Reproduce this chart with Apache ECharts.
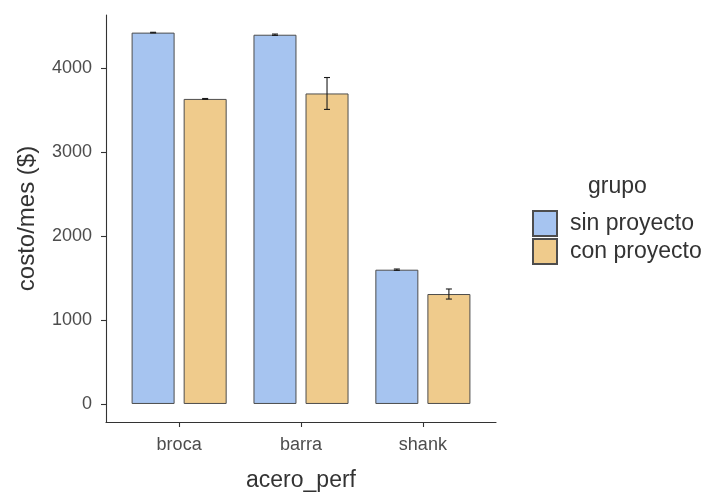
<!DOCTYPE html>
<html>
<head>
<meta charset="utf-8">
<script src="https://cdn.jsdelivr.net/npm/echarts@6/dist/echarts.min.js"></script>
<style>
  html, body { margin: 0; padding: 0; background: #ffffff; }
  #chart { width: 709px; height: 493px; }
</style>
</head>
<body>
<div id="chart"></div>
<script>
// Mean monthly cost per steel type, with and without the project, plus error half-widths
const categories = ['broca', 'barra', 'shank'];
const groups = ['sin proyecto', 'con proyecto'];
const sinMean = [4425, 4400, 1600];
const sinErr = [4, 8, 8];
const conMean = [3635, 3700, 1310];
const conErr = [5, 190, 60];
const yTicks = [0, 1000, 2000, 3000, 4000];

const colors = ['#a6c4f0', '#efcb8c'];
const FONT = 'Liberation Sans, Arial, sans-serif';
const CAT_GAP = 0.22;   // share of each category band left empty
const BAR_GAP = 0.21;   // gap between the two bars, relative to bar width

// categories sit at x = 1, 2, 3 on a continuous axis (discrete-scale padding of 0.6)
const xPos = categories.map((c, i) => i + 1);

function barData(values) {
  return values.map((v, i) => [xPos[i], v]);
}
function errData(values, errs) {
  return values.map((v, i) => [xPos[i], v - errs[i], v + errs[i]]);
}

// horizontal shift of a dodged bar's centre, as a fraction of the band width
function dodgeShift(sign) {
  const w = (1 - CAT_GAP) / (2 + BAR_GAP);
  return sign * w * (1 + BAR_GAP) / 2;
}

function errorBarRenderer(sign) {
  return function (params, api) {
    const x = api.value(0);
    const lo = api.coord([x, api.value(1)]);
    const hi = api.coord([x, api.value(2)]);
    const band = api.size([1, 0])[0];
    const cx = lo[0] + dodgeShift(sign) * band;
    const cap = 3;
    const style = { stroke: '#1a1a1a', lineWidth: 1.1 };
    return {
      type: 'group',
      children: [
        { type: 'line', shape: { x1: cx, y1: lo[1], x2: cx, y2: hi[1] }, style },
        { type: 'line', shape: { x1: cx - cap, y1: lo[1], x2: cx + cap, y2: lo[1] }, style },
        { type: 'line', shape: { x1: cx - cap, y1: hi[1], x2: cx + cap, y2: hi[1] }, style }
      ]
    };
  };
}

const axisLineStyle = { color: '#333333', width: 1.1 };

const chart = echarts.init(document.getElementById('chart'), null, { renderer: 'canvas' });
chart.setOption({
  animation: false,
  backgroundColor: '#ffffff',
  textStyle: { fontFamily: FONT },
  grid: { left: 106, right: 213, top: 15, bottom: 71, containLabel: false, outerBoundsMode: 'none' },
  title: {
    text: 'grupo',
    left: 588,
    top: 175,
    padding: 0,
    textStyle: { fontFamily: FONT, fontSize: 23, fontWeight: 'normal', color: '#333333' }
  },
  legend: {
    data: groups,
    orient: 'vertical',
    left: 532,
    top: 210,
    itemWidth: 24,
    itemHeight: 25,
    itemGap: 1,
    icon: 'rect',
    padding: 0,
    textStyle: { fontFamily: FONT, fontSize: 23, color: '#333333', padding: [0, 0, 0, 8] }
  },
  xAxis: {
    type: 'value',
    min: 0.4,
    max: 3.6,
    name: 'acero_perf',
    nameLocation: 'middle',
    nameGap: 47,
    nameTextStyle: { fontFamily: FONT, fontSize: 23, color: '#333333' },
    axisLine: { show: true, onZero: false, lineStyle: axisLineStyle },
    axisTick: { show: true, length: 5, customValues: xPos, lineStyle: axisLineStyle },
    axisLabel: {
      customValues: xPos,
      formatter: v => categories[Math.round(v) - 1] || '',
      margin: 14,
      fontFamily: FONT,
      fontSize: 18,
      color: '#4d4d4d'
    },
    splitLine: { show: false }
  },
  yAxis: {
    type: 'value',
    min: -215,
    max: 4635,
    name: 'costo/mes ($)',
    nameLocation: 'middle',
    nameGap: 67,
    nameTextStyle: { fontFamily: FONT, fontSize: 24, color: '#333333' },
    axisLine: { show: true, onZero: false, lineStyle: axisLineStyle },
    axisTick: { show: true, length: 5, customValues: yTicks, lineStyle: axisLineStyle },
    axisLabel: {
      customValues: yTicks,
      formatter: v => String(v),
      margin: 14,
      fontFamily: FONT,
      fontSize: 18,
      color: '#4d4d4d'
    },
    splitLine: { show: false }
  },
  series: [
    {
      name: groups[0],
      type: 'bar',
      data: barData(sinMean),
      barCategoryGap: (CAT_GAP * 100) + '%',
      barGap: (BAR_GAP * 100) + '%',
      itemStyle: { color: colors[0], borderColor: '#4d4d4d', borderWidth: 1 }
    },
    {
      name: groups[1],
      type: 'bar',
      data: barData(conMean),
      barCategoryGap: (CAT_GAP * 100) + '%',
      barGap: (BAR_GAP * 100) + '%',
      itemStyle: { color: colors[1], borderColor: '#4d4d4d', borderWidth: 1 }
    },
    {
      type: 'custom',
      renderItem: errorBarRenderer(-1),
      data: errData(sinMean, sinErr),
      encode: { x: 0, y: [1, 2] },
      z: 5,
      silent: true
    },
    {
      type: 'custom',
      renderItem: errorBarRenderer(1),
      data: errData(conMean, conErr),
      encode: { x: 0, y: [1, 2] },
      z: 5,
      silent: true
    }
  ]
});
</script>
</body>
</html>
